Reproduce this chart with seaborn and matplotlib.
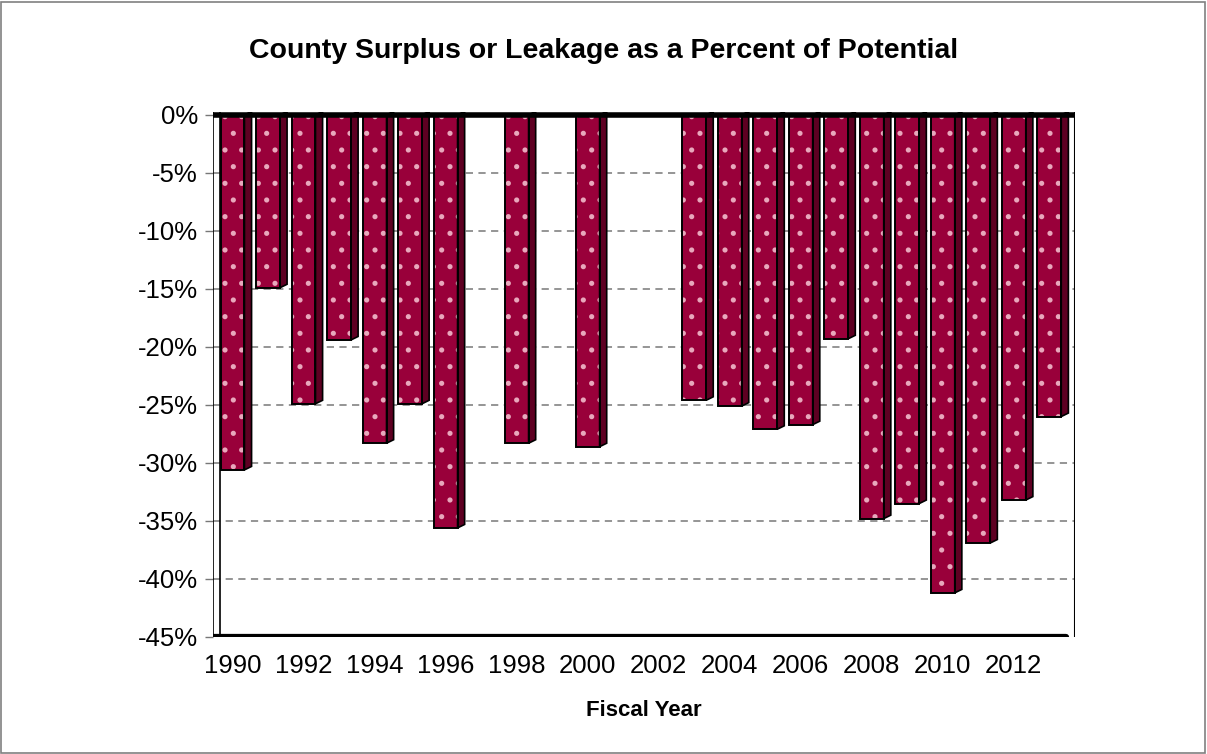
import numpy as np
import pandas as pd
import matplotlib
matplotlib.use("Agg")
import matplotlib.pyplot as plt
import seaborn as sns
from matplotlib.patches import Polygon, Rectangle

years = [str(y) for y in range(1990, 2014)]
values = [-30.6, -14.9, -24.9, -19.4, -28.3, -24.9, -35.6, np.nan, -28.3, np.nan,
          -28.6, np.nan, np.nan, -24.6, -25.1, -27.1, -26.7, -19.3, -34.8, -33.5,
          -41.2, -36.9, -33.2, -26.0]
yticks = list(range(-45, 1, 5))
title = "County Surplus or Leakage as a Percent of Potential"
xlabel = "Fiscal Year"

df = pd.DataFrame({"year": years, "value": values})

sns.set_theme(style="white")
plt.rcParams["font.family"] = ["Liberation Sans", "DejaVu Sans"]
plt.rcParams["hatch.linewidth"] = 1.3
plt.rcParams["text.color"] = "black"
plt.rcParams["axes.labelcolor"] = "black"

fig = plt.figure(figsize=(12.07, 7.54), dpi=100)
ax = fig.add_axes([0.1765, 0.1552, 0.8906 - 0.1765, 0.8515 - 0.1552])

face = "#99003a"
side = "#5e0022"

# grid lines on back wall
for t in yticks[1:-1]:
    ax.axhline(t, color="#8c8c8c", lw=1.3, ls=(0, (4, 3)), zorder=0.5)

sns.barplot(data=df, x="year", y="value", order=years, color=face, width=0.67,
            saturation=1, ax=ax, zorder=2, edgecolor="#e8a8bc", linewidth=0,
            hatch=".", err_kws={"linewidth": 0})

# 3D side faces and outlines derived from bar patches
depth = 0.2
for p in list(ax.patches):
    h = p.get_height()
    if not np.isfinite(h) or h == 0:
        continue
    x0 = p.get_x()
    w = p.get_width()
    x1 = x0 + w
    ybot = p.get_y() + h
    ytop = p.get_y()
    poly = Polygon([(x1, ytop), (x1 + depth, ytop + 0.3), (x1 + depth, ybot + 0.3),
                    (x1, ybot)], closed=True, facecolor=side, edgecolor="black",
                   lw=1.2, zorder=2.1)
    ax.add_patch(poly)
    ax.add_patch(Rectangle((x0, ytop), w, h, fill=False, edgecolor="black",
                           lw=1.4, zorder=2.2))

ax.set_xlim(-0.55, 23.72)
ax.set_ylim(-45, 0.25)
ax.set_yticks(yticks)
ax.set_yticklabels([f"{t}%" for t in yticks])
ax.set_xticks(range(0, 24, 2))
ax.set_xticklabels(years[::2])
ax.tick_params(axis="y", labelsize=18.5, length=6, color="#777777", width=1,
               left=True, pad=5, labelcolor="black")
ax.tick_params(axis="x", labelsize=18.5, length=0, pad=12, labelcolor="black")
ax.set_xlabel(xlabel, fontsize=16, fontweight="bold", labelpad=16, color="black")
ax.set_ylabel("")

for s in ["top", "right", "bottom", "left"]:
    ax.spines[s].set_visible(False)

# walls / floor lines
ax.axhline(0, color="black", lw=4, zorder=3)
ax.axhline(-45, color="black", lw=4.5, zorder=3, xmax=0.99)
ax.axvline(-0.55, color="black", lw=1.2, zorder=3)
ax.axvline(-0.36, color="black", lw=1.2, zorder=3)
ax.axvline(23.72, color="black", lw=1.5, zorder=3)

fig.text(0.5, 0.932, title, ha="center", va="center", fontsize=20.5,
         fontweight="bold", color="black")

# outer frame
fig.patches.append(Rectangle((0.0005, 0.001), 0.998, 0.997, transform=fig.transFigure,
                             fill=False, edgecolor="#808080", lw=1.2))

fig.savefig("out.png", dpi=100)
